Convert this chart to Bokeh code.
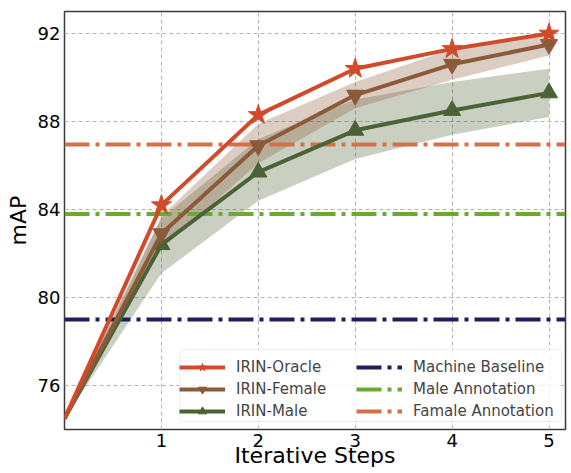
from bokeh.plotting import figure
from bokeh.models import Range1d, Legend, LegendItem, FixedTicker, BoxAnnotation
from bokeh.embed import file_html
from bokeh.resources import INLINE

steps = [0, 1, 2, 3, 4, 5]
oracle = [74.5, 84.2, 88.3, 90.4, 91.3, 92.0]
female = [74.5, 82.9, 86.9, 89.2, 90.6, 91.5]
female_lo = [74.5, 82.2, 86.1, 88.6, 89.9, 91.0]
female_hi = [74.5, 83.7, 87.9, 89.8, 91.3, 91.95]
male = [74.5, 82.4, 85.7, 87.6, 88.5, 89.3]
male_lo = [74.5, 81.1, 84.4, 86.3, 87.4, 88.2]
male_hi = [74.5, 83.6, 87.2, 89.0, 89.8, 90.4]
machine_baseline = 79.0
male_annotation = 83.8
female_annotation = 86.95
x_ticks = [1, 2, 3, 4, 5]
y_ticks = [76, 80, 84, 88, 92]

RED = "#d14b2a"
BROWN = "#8b5a39"
GREEN = "#4b6236"
NAVY = "#1f1d5e"
LGREEN = "#6aaa2f"
ORANGE = "#d4704a"
FONT = "DejaVu Sans"

p = figure(width=571, height=473, frame_width=501, frame_height=418,
           x_range=Range1d(0, 5.17), y_range=Range1d(74, 93),
           output_backend="svg", toolbar_location=None,
           min_border_left=64, min_border_top=11, min_border_right=6, min_border_bottom=44)
p.background_fill_color = "white"
p.border_fill_color = "white"
p.outline_line_color = "#3a3a3a"
p.outline_line_width = 1.5

for ax in (p.xaxis[0], p.yaxis[0]):
    ax.major_tick_in = 0
    ax.major_tick_out = 0
    ax.minor_tick_in = 0
    ax.minor_tick_out = 0
    ax.axis_line_color = None
    ax.major_label_text_font = FONT
    ax.major_label_text_font_size = "18px"
    ax.major_label_text_color = "black"
    ax.axis_label_text_font = FONT
    ax.axis_label_text_font_size = "22px"
    ax.axis_label_text_font_style = "normal"
    ax.axis_label_text_color = "black"
    ax.major_label_standoff = 4
    ax.axis_label_standoff = 4
p.xaxis.ticker = FixedTicker(ticks=x_ticks)
p.yaxis.ticker = FixedTicker(ticks=y_ticks)
p.yaxis.axis_label = "mAP"
p.xaxis.axis_label = "Iterative Steps"
p.xaxis.axis_label_standoff = -7

for g in (p.xgrid[0], p.ygrid[0]):
    g.grid_line_color = "#b5b5b5"
    g.grid_line_dash = "4 3"
    g.grid_line_width = 1
p.xgrid.ticker = FixedTicker(ticks=x_ticks)
p.ygrid.ticker = FixedTicker(ticks=y_ticks)

p.varea(x=steps, y1=male_lo, y2=male_hi, fill_color=GREEN, fill_alpha=0.3)
p.varea(x=steps, y1=female_lo, y2=female_hi, fill_color=BROWN, fill_alpha=0.3)

DASH = "25 6 4 6"
h1 = p.line(x=[0, 5.17], y=[machine_baseline] * 2, line_color=NAVY, line_width=4, line_dash=DASH)
h2 = p.line(x=[0, 5.17], y=[male_annotation] * 2, line_color=LGREEN, line_width=4, line_dash=DASH)
h3 = p.line(x=[0, 5.17], y=[female_annotation] * 2, line_color=ORANGE, line_width=4, line_dash=DASH)

lm = p.line(steps, male, line_color=GREEN, line_width=4)
sm = p.scatter(steps[1:], male[1:], marker="triangle", size=17, color=GREEN)
lf = p.line(steps, female, line_color=BROWN, line_width=4)
sf = p.scatter(steps[1:], female[1:], marker="inverted_triangle", size=17, color=BROWN)
lo = p.line(steps, oracle, line_color=RED, line_width=4)
so = p.scatter(steps[1:], oracle[1:], marker="star", size=21, color=RED)

# legend frame
p.add_layout(BoxAnnotation(left=115, right=497, bottom=8, top=80,
                           left_units="screen", right_units="screen",
                           bottom_units="screen", top_units="screen",
                           fill_color="white", fill_alpha=0.8,
                           line_color="#cccccc", line_width=1, border_radius=4,
                           level="annotation"))


def make_legend(items, loc):
    lg = Legend(items=items, location=loc)
    lg.label_text_font = FONT
    lg.label_text_font_size = "15px"
    lg.glyph_width = 46
    lg.glyph_height = 20
    lg.label_standoff = 11
    lg.spacing = 2
    lg.padding = 4
    lg.margin = 0
    lg.border_line_color = None
    lg.background_fill_alpha = 0
    return lg


p.add_layout(make_legend([
    LegendItem(label="IRIN-Oracle", renderers=[lo, so]),
    LegendItem(label="IRIN-Female", renderers=[lf, sf]),
    LegendItem(label="IRIN-Male", renderers=[lm, sm]),
], (115, 8)))
p.add_layout(make_legend([
    LegendItem(label="Machine Baseline", renderers=[h1]),
    LegendItem(label="Male Annotation", renderers=[h2]),
    LegendItem(label="Famale Annotation", renderers=[h3]),
], (292, 8)))

open("out.html", "w").write(file_html(p, INLINE))
